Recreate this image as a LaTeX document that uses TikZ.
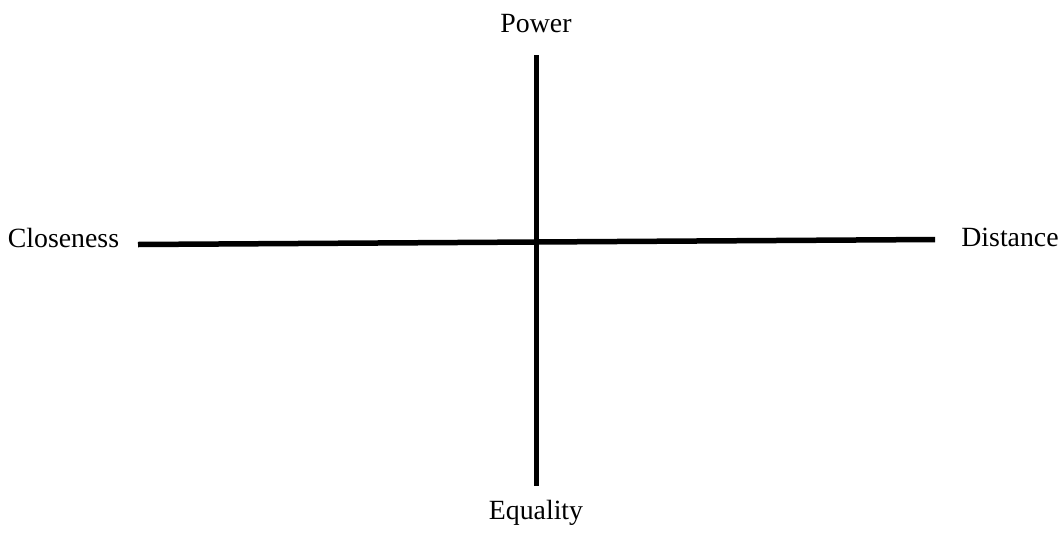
\documentclass[tikz,border=0pt]{standalone}
\usepackage{fontspec}
\setmainfont{Liberation Serif}
\begin{document}
\begin{tikzpicture}[x=1pt,y=-1pt,
  axis/.style={line width=5.5pt,line cap=butt},
  lbl/.style={font=\fontsize{27.8}{33}\selectfont,inner sep=0pt,anchor=base}]
\useasboundingbox (0,0) rectangle (1064,533);
\coordinate (l) at (138,244.5);
\coordinate (r) at (935,239.5);
\coordinate (t) at (536.5,55);
\coordinate (b) at (536.5,486);
\draw[axis] (l) -- (r);
\draw[axis] (t) -- (b);
\node[lbl] (close) at (63.5,247) {Closeness};
\node[lbl] (dist) at (1010,246) {Distance};
\node[lbl] (pow) at (536,32) {Power};
\node[lbl] (eq) at (536,519) {Equality};
\end{tikzpicture}
\end{document}
